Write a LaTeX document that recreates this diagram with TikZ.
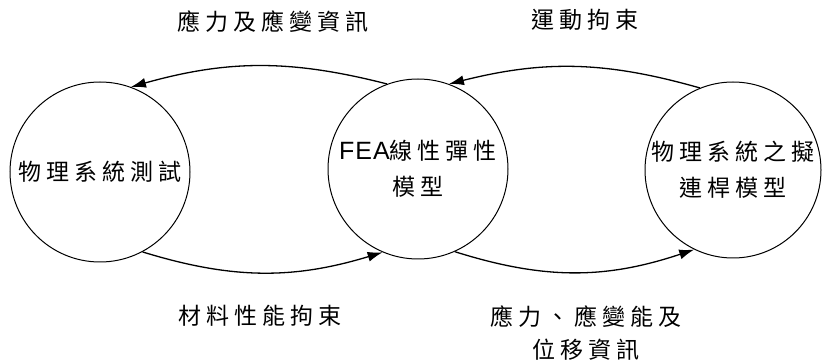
\documentclass[tikz,border=0pt]{standalone}
\usepackage{fontspec}
\setmainfont{Liberation Sans}
\newfontfamily\cjk[LetterSpace=22]{Noto Sans CJK TC}
\newfontfamily\latn[LetterSpace=4]{Liberation Sans}
\usetikzlibrary{arrows.meta}
\begin{document}
\begin{tikzpicture}[x=1pt,y=1pt,
  circ/.style={circle,draw,line width=1pt,minimum size=180pt,inner sep=0pt,align=center,
               font=\cjk\fontsize{23}{36}\selectfont},
  lbl/.style={inner sep=0pt,align=center,font=\cjk\fontsize{23}{33}\selectfont},
  conn/.style={line width=1.3pt,-{Latex[length=15pt,width=10pt]}}]
\useasboundingbox (0,0) rectangle (822,-363);
\node[circ] (L) at (100,-172) {物理系統測試};
\node[circ] (M) at (418,-169) {{\latn\fontsize{25}{36}\selectfont FEA}線性彈性\\模型};
\node[circ,minimum size=176pt] (R) at (733,-170) {物理系統之擬\\連桿模型};
\draw[conn] (M.110) to[bend right=15] (L.70);
\draw[conn] (L.-62) to[bend right=17] (M.-113);
\draw[conn] (R.112) to[bend right=15] (M.70);
\draw[conn] (M.-66) to[bend right=18] (R.-116);
\node[lbl] (t1) at (273,-22) {應力及應變資訊};
\node[lbl] (t2) at (585,-20) {運動拘束};
\node[lbl] (b1) at (260,-316) {材料性能拘束};
\node[lbl] (b2) at (586,-333) {應力、應變能及\\位移資訊};
\end{tikzpicture}
\end{document}
